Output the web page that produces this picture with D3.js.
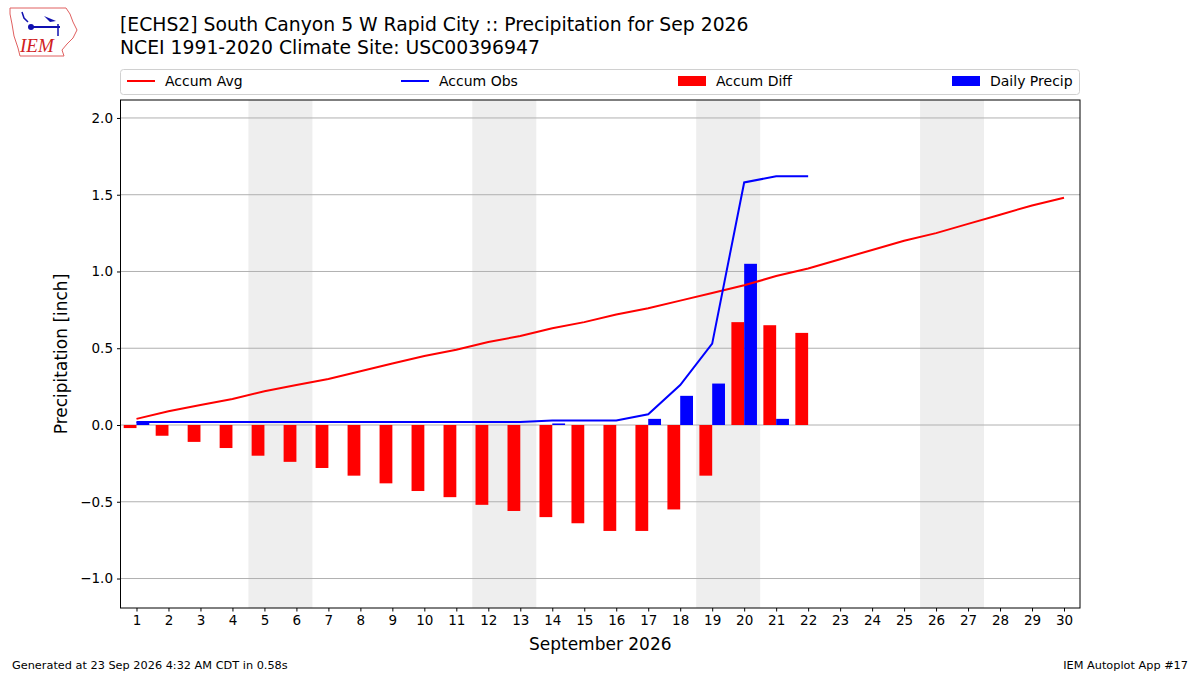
<!DOCTYPE html>
<html>
<head>
<meta charset="utf-8">
<script src="https://cdn.jsdelivr.net/npm/d3@7"></script>
<style>
  body { margin: 0; background: #fff; }
  svg { font-family: "DejaVu Sans", sans-serif; }
</style>
</head>
<body>
<svg width="1200" height="675"></svg>
<script>
// days of the month
const days = d3.range(1, 31);
// accumulated climatology (inch)
const accumAvg = [0.04, 0.09, 0.13, 0.17, 0.22, 0.26, 0.30, 0.35, 0.40, 0.45,
                  0.49, 0.54, 0.58, 0.63, 0.67, 0.72, 0.76, 0.81, 0.86, 0.91,
                  0.97, 1.02, 1.08, 1.14, 1.20, 1.25, 1.31, 1.37, 1.43, 1.48];
// accumulated observed, only up to day 22
const accumObs = [0.02, 0.02, 0.02, 0.02, 0.02, 0.02, 0.02, 0.02, 0.02, 0.02,
                  0.02, 0.02, 0.02, 0.03, 0.03, 0.03, 0.07, 0.26, 0.53, 1.58,
                  1.62, 1.62];
const accumDiff = [-0.02, -0.07, -0.11, -0.15, -0.20, -0.24, -0.28, -0.33, -0.38, -0.43,
                   -0.47, -0.52, -0.56, -0.60, -0.64, -0.69, -0.69, -0.55, -0.33, 0.67,
                   0.65, 0.60];
const dailyPrecip = [0.02, 0, 0, 0, 0, 0, 0, 0, 0, 0,
                     0, 0, 0, 0.01, 0, 0, 0.04, 0.19, 0.27, 1.05,
                     0.04, 0];
// weekend days shaded
const weekends = [5, 12, 19, 26];
const yTicks = [-1.0, -0.5, 0.0, 0.5, 1.0, 1.5, 2.0];

const svg = d3.select("svg");
const area = { left: 120.5, right: 1080, top: 100, bottom: 608 };

const x = d3.scaleLinear().domain([0.5, 30.5]).range([area.left, area.right]);
const y = d3.scaleLinear().domain([-1.192, 2.117]).range([area.bottom, area.top]);

// weekend shading
svg.append("g").selectAll("rect")
  .data(weekends).enter().append("rect")
  .attr("x", d => x(d - 0.5))
  .attr("width", d => x(d + 1.5) - x(d - 0.5))
  .attr("y", area.top)
  .attr("height", area.bottom - area.top)
  .attr("fill", "#eeeeee");

// horizontal grid
svg.append("g").selectAll("line")
  .data(yTicks).enter().append("line")
  .attr("x1", area.left).attr("x2", area.right)
  .attr("y1", d => y(d)).attr("y2", d => y(d))
  .attr("stroke", "#b0b0b0").attr("stroke-width", 1);

// accum diff bars (left of the day)
svg.append("g").selectAll("rect")
  .data(accumDiff).enter().append("rect")
  .attr("x", (d, i) => x(days[i] - 0.4))
  .attr("width", x(1.4) - x(1))
  .attr("y", d => y(Math.max(0, d)))
  .attr("height", d => Math.abs(y(d) - y(0)))
  .attr("fill", "red");

// daily precip bars (right of the day)
svg.append("g").selectAll("rect")
  .data(dailyPrecip).enter().append("rect")
  .attr("x", (d, i) => x(days[i]))
  .attr("width", x(1.4) - x(1))
  .attr("y", d => y(Math.max(0, d)))
  .attr("height", d => Math.abs(y(d) - y(0)))
  .attr("fill", "blue");

const line = d3.line().x((d, i) => x(days[i])).y(d => y(d));

svg.append("path").datum(accumAvg)
  .attr("d", line).attr("fill", "none")
  .attr("stroke", "red").attr("stroke-width", 2);

svg.append("path").datum(accumObs)
  .attr("d", line).attr("fill", "none")
  .attr("stroke", "blue").attr("stroke-width", 2);

// axes
const axisX = d3.axisBottom(x).tickValues(days).tickSize(3.5).tickPadding(4).tickFormat(d3.format("d"));
const gx = svg.append("g").attr("transform", `translate(0,${area.bottom})`).call(axisX);
const axisY = d3.axisLeft(y).tickValues(yTicks).tickSize(3.5).tickPadding(4)
  .tickFormat(d => d3.format(".1f")(d).replace("-", "\u2212"));
const gy = svg.append("g").attr("transform", `translate(${area.left},0)`).call(axisY);
[gx, gy].forEach(g => {
  g.select(".domain").remove();
  g.selectAll("text").attr("font-size", 13.5).attr("fill", "#000")
    .attr("font-family", "DejaVu Sans");
  g.selectAll("line").attr("stroke", "#000");
});

// frame
svg.append("rect")
  .attr("x", area.left).attr("y", area.top)
  .attr("width", area.right - area.left).attr("height", area.bottom - area.top)
  .attr("fill", "none").attr("stroke", "#000").attr("stroke-width", 1);

// labels
svg.append("text")
  .attr("transform", `translate(67,${(area.top + area.bottom) / 2}) rotate(-90)`)
  .attr("text-anchor", "middle").attr("font-size", 17)
  .text("Precipitation [inch]");
svg.append("text")
  .attr("x", (area.left + area.right) / 2).attr("y", 650)
  .attr("text-anchor", "middle").attr("font-size", 17)
  .text("September 2026");

// titles
svg.append("text").attr("x", 120).attr("y", 31).attr("font-size", 18.8)
  .text("[ECHS2] South Canyon 5 W Rapid City :: Precipitation for Sep 2026");
svg.append("text").attr("x", 120).attr("y", 54).attr("font-size", 18.8)
  .text("NCEI 1991-2020 Climate Site: USC00396947");

// legend
svg.append("rect")
  .attr("x", 120.5).attr("y", 69.5).attr("width", 959).attr("height", 25)
  .attr("rx", 3).attr("fill", "#fff").attr("stroke", "#d0d0d0");
const legendItems = [
  { label: "Accum Avg", color: "red", kind: "line", x: 127 },
  { label: "Accum Obs", color: "blue", kind: "line", x: 401 },
  { label: "Accum Diff", color: "red", kind: "box", x: 678 },
  { label: "Daily Precip", color: "blue", kind: "box", x: 952 }
];
const lg = svg.append("g").selectAll("g").data(legendItems).enter().append("g");
lg.filter(d => d.kind === "line").append("line")
  .attr("x1", d => d.x).attr("x2", d => d.x + 28)
  .attr("y1", 81).attr("y2", 81)
  .attr("stroke", d => d.color).attr("stroke-width", 2);
lg.filter(d => d.kind === "box").append("rect")
  .attr("x", d => d.x).attr("y", 76).attr("width", 28).attr("height", 10)
  .attr("fill", d => d.color);
lg.append("text")
  .attr("x", d => d.x + 38).attr("y", 86).attr("font-size", 14)
  .text(d => d.label);

// footer
svg.append("text").attr("x", 12).attr("y", 669).attr("font-size", 11.3)
  .text("Generated at 23 Sep 2026 4:32 AM CDT in 0.58s");
svg.append("text").attr("x", 1188).attr("y", 669).attr("font-size", 11.3)
  .attr("text-anchor", "end").text("IEM Autoplot App #17");

// rough IEM logo
const logo = svg.append("g");
logo.append("path")
  .attr("d", "M10,8 L66,8 L70,14 L73,22 L77,30 L73,38 L67,44 L62,50 L64,56 L20,56 L18,48 L14,36 L12,24 L10,14 Z")
  .attr("fill", "none").attr("stroke", "#e06060").attr("stroke-width", 1);
logo.append("line").attr("x1", 30).attr("x2", 60).attr("y1", 27).attr("y2", 27)
  .attr("stroke", "#1010b0").attr("stroke-width", 2);
logo.append("circle").attr("cx", 31).attr("cy", 27).attr("r", 3).attr("fill", "#1010b0");
logo.append("path").attr("d", "M44,16 L56,21 L50,22 Z").attr("fill", "#1010b0");
logo.append("path").attr("d", "M22,12 L24,18 L28,22 M58,24 L58,36").attr("fill", "none")
  .attr("stroke", "#1010b0").attr("stroke-width", 1.5);
logo.append("text").attr("x", 20).attr("y", 52)
  .attr("font-family", "Liberation Serif").attr("font-style", "italic")
  .attr("font-size", 19).attr("fill", "#d02020").text("IEM");
</script>
</body>
</html>
